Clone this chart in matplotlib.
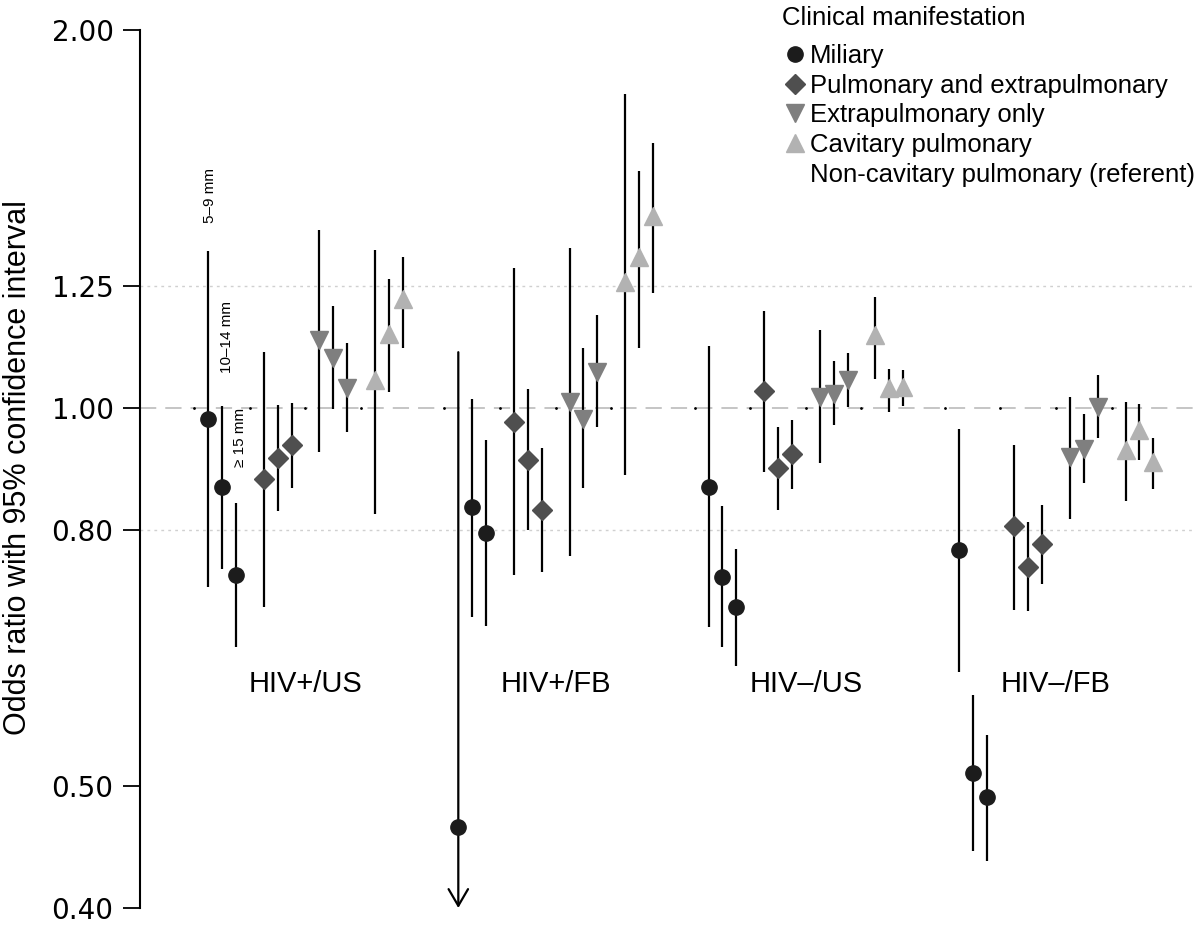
import matplotlib
matplotlib.use("Agg")
import matplotlib.pyplot as plt
from matplotlib.lines import Line2D
from matplotlib.ticker import NullLocator, FixedLocator, FixedFormatter

# groups (HIV status / birth place) and tuberculin induration levels
groups = ['HIV+/US', 'HIV+/FB', 'HIV–/US', 'HIV–/FB']
induration = ['5–9 mm', '10–14 mm', '≥ 15 mm']
categories = ['Miliary', 'Pulmonary and extrapulmonary',
              'Extrapulmonary only', 'Cavitary pulmonary']
referent = 'Non-cavitary pulmonary (referent)'

# odds ratios, 4 groups x 3 induration levels
miliary_or = [0.980, 0.866, 0.737, 0.464, 0.834, 0.796, 0.866, 0.734, 0.694, 0.771, 0.512, 0.490]
miliary_lo = [0.720, 0.745, 0.645, 0.300, 0.682, 0.671, 0.669, 0.645, 0.623, 0.617, 0.444, 0.436]
miliary_hi = [1.335, 1.004, 0.841, 1.108, 1.017, 0.943, 1.120, 0.836, 0.773, 0.962, 0.591, 0.549]

pulm_extra_or = [0.878, 0.913, 0.935, 0.975, 0.909, 0.830, 1.032, 0.896, 0.919, 0.805, 0.748, 0.780]
pulm_extra_lo = [0.695, 0.828, 0.864, 0.736, 0.800, 0.741, 0.890, 0.830, 0.862, 0.691, 0.689, 0.724]
pulm_extra_hi = [1.108, 1.005, 1.009, 1.292, 1.035, 0.929, 1.194, 0.966, 0.978, 0.935, 0.812, 0.838]

extra_only_or = [1.132, 1.096, 1.037, 1.011, 0.980, 1.068, 1.020, 1.026, 1.053, 0.914, 0.928, 1.002]
extra_only_lo = [0.923, 0.998, 0.957, 0.762, 0.864, 0.966, 0.904, 0.969, 1.002, 0.816, 0.872, 0.947]
extra_only_hi = [1.387, 1.205, 1.126, 1.342, 1.116, 1.187, 1.155, 1.090, 1.106, 1.020, 0.989, 1.062]

cavitary_or = [1.053, 1.145, 1.221, 1.259, 1.320, 1.423, 1.143, 1.037, 1.039, 0.926, 0.961, 0.906]
cavitary_lo = [0.824, 1.030, 1.116, 0.885, 1.116, 1.234, 1.054, 0.993, 1.004, 0.844, 0.909, 0.862]
cavitary_hi = [1.337, 1.266, 1.320, 1.779, 1.545, 1.626, 1.227, 1.074, 1.072, 1.011, 1.007, 0.947]

yticks = [0.40, 0.50, 0.80, 1.00, 1.25, 2.00]

series = [
    (miliary_or, miliary_lo, miliary_hi, 'o', '#1c1c1c', 11),
    (pulm_extra_or, pulm_extra_lo, pulm_extra_hi, 'D', '#4f4f4f', 10),
    (extra_only_or, extra_only_lo, extra_only_hi, 'v', '#7f7f7f', 13),
    (cavitary_or, cavitary_lo, cavitary_hi, '^', '#b2b2b2', 13),
]

plt.rcParams['font.family'] = ['Liberation Sans', 'DejaVu Sans']

fig = plt.figure(figsize=(12, 9.25), dpi=100)
ax = fig.add_axes([140 / 1200, 17 / 925, 1055 / 1200, 878 / 925])
ax.set_yscale('log')
ymin, ymax = 0.40, 2.00
ax.set_ylim(ymin, ymax)
ax.set_xlim(-4.9, 71.0)

# reference lines
ax.axhline(1.0, color='#c0c0c0', lw=1.3, ls=(0, (9, 5)), zorder=1)
for v in (0.80, 1.25):
    ax.axhline(v, color='#d0d0d0', lw=1.0, ls=(0, (2, 3)), zorder=1)

def xpos(g, c, l):
    return 18 * g + 4 * c + l

# referent marks at 1.00 just before each category block
for g in range(len(groups)):
    for c in range(len(categories)):
        ax.plot(xpos(g, c, -1), 1.0, marker='.', ms=2, color='black',
                zorder=2, ls='none')

for c, (orv, lo, hi, mk, col, ms) in enumerate(series):
    for g in range(len(groups)):
        for l in range(len(induration)):
            i = g * 3 + l
            x = xpos(g, c, l)
            if lo[i] < ymin:
                ax.annotate('', xy=(x, ymin), xytext=(x, hi[i]),
                            arrowprops=dict(arrowstyle='->,head_length=0.6,head_width=0.35',
                                            lw=1.6, color='black', mutation_scale=20,
                                            shrinkA=0, shrinkB=0),
                            annotation_clip=False, zorder=2)
            else:
                ax.vlines(x, lo[i], hi[i], color='black', lw=1.6, zorder=2)
            ax.plot(x, orv[i], marker=mk, ms=ms, color=col, mec=col,
                    ls='none', zorder=3)

# group labels
for g, name in enumerate(groups):
    ax.text(xpos(g, 0, 0) + 7, 0.603, name, ha='center', va='center',
            fontsize=21)

# induration labels, rotated
ind_x = [0.15, 1.35, 2.3]
ind_y = [1.476, 1.139, 0.947]
for t, xx, yy in zip(induration, ind_x, ind_y):
    ax.text(xx, yy, t, rotation=90, ha='center', va='center', fontsize=11)

# axis styling
for s in ('top', 'right', 'bottom'):
    ax.spines[s].set_visible(False)
ax.spines['left'].set_linewidth(1.5)
ax.set_xticks([])
ax.yaxis.set_major_locator(FixedLocator(yticks))
ax.yaxis.set_major_formatter(FixedFormatter(['%.2f' % v for v in yticks]))
ax.yaxis.set_minor_locator(NullLocator())
ax.tick_params(axis='y', length=12, width=1.3, pad=7, labelsize=20)
for lab in ax.get_yticklabels():
    lab.set_fontfamily('DejaVu Sans')

fig.text(18 / 1200, 1 - 468 / 925, 'Odds ratio with 95% confidence interval',
         rotation=90, ha='center', va='center', fontsize=22)

# legend (title drawn separately, it sits a little apart from the rows)
fig.text(782 / 1200, 1 - 18 / 925, 'Clinical manifestation',
         ha='left', va='center', fontsize=18.5)
handles = [Line2D([], [], marker=mk, ms=ms, color=col, ls='none')
           for (_, _, _, mk, col, ms) in series]
handles.append(Line2D([], [], marker='None', ls='none'))
labels = categories + [referent]
leg = ax.legend(handles, labels,
                loc='upper left', bbox_to_anchor=(782 / 1200, 1 - 44 / 925),
                bbox_transform=fig.transFigure, frameon=False,
                fontsize=18.5, handletextpad=0.1, labelspacing=0.22,
                borderaxespad=0, borderpad=0, handlelength=1.0)

fig.savefig('out.png', dpi=100)
